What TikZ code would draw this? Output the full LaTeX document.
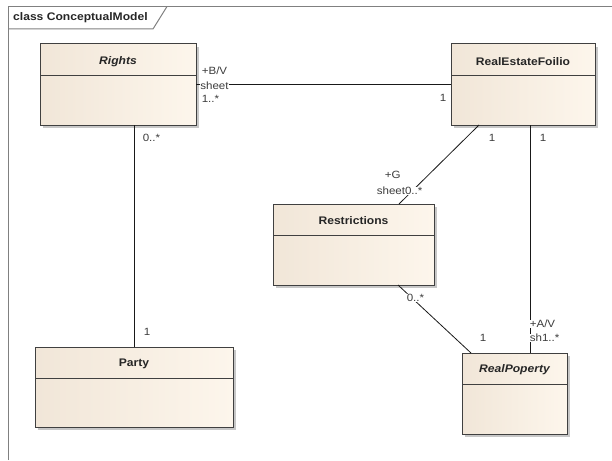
\documentclass[tikz,border=0pt]{standalone}
\usepackage{fontspec}
\setmainfont{Liberation Sans}
\newfontfamily\widesans[FakeStretch=1.1]{Liberation Sans}
\usetikzlibrary{shadows,calc}
\definecolor{boxL}{RGB}{241,230,216}
\definecolor{boxR}{RGB}{253,246,236}
\definecolor{frameC}{RGB}{128,128,128}
\definecolor{edgeC}{RGB}{64,64,64}
\definecolor{labC}{RGB}{60,60,60}
\tikzset{
  classbox/.style={draw=edgeC, line width=1pt, left color=boxL, middle color=boxR, right color=boxR,
    inner sep=0pt, outer sep=0pt, anchor=north west,
    drop shadow={shadow xshift=3pt, shadow yshift=-3pt, fill=black!22, opacity=1}},
  sepline/.style={draw=edgeC, line width=0.8pt},
  cname/.style={font=\widesans\fontsize{11}{13}\selectfont\bfseries, text=black!85, inner sep=0pt},
  aname/.style={cname, font=\widesans\fontsize{11}{13}\selectfont\bfseries\itshape},
  conn/.style={draw=black!90, line width=0.8pt},
  lab/.style={font=\widesans\fontsize{10.5}{12}\selectfont, text=labC, fill=white, inner sep=0.6pt},
  labw/.style={lab, anchor=west},
  frame/.style={draw=frameC, line width=1.4pt},
}
\begin{document}
\begin{tikzpicture}[x=1pt,y=-1pt]
\useasboundingbox (0,0) rectangle (612,460);
% frame
\draw[frame] (8.5,460) -- (8.5,6.5) -- (612,6.5);
\draw[frame, line width=1pt] (8.5,29) -- (153,29) -- (167,6.5);
\node[anchor=west, inner sep=0pt, font=\widesans\fontsize{11}{13}\selectfont\bfseries, text=black!85] (title) at (13,17.5) {class ConceptualModel};

% classes
\node[classbox, minimum width=156pt, minimum height=81pt] (rights) at (40,44) {};
\node[classbox, minimum width=144pt, minimum height=81pt] (ref) at (451,44) {};
\node[classbox, minimum width=161pt, minimum height=81pt] (restr) at (273,204) {};
\node[classbox, minimum width=105pt, minimum height=81pt] (rp) at (462,353) {};
\node[classbox, minimum width=198pt, minimum height=80pt] (party) at (35,347) {};

\foreach \n in {rights,ref,restr,rp,party}{
  \draw[sepline] ([yshift=-31.5pt]\n.north west) -- ([yshift=-31.5pt]\n.north east);
}

\node[aname] (rightsname) at (118,61.5) {Rights};
\node[cname] (refname) at (523,62) {RealEstateFoilio};
\node[cname] (restrname) at (353.5,221) {Restrictions};
\node[aname] (rpname) at (514.5,370) {RealPoperty};
\node[cname] (partyname) at (134,364) {Party};

% connectors
\draw[conn] (rights.east) -- (ref.west);
\draw[conn] (party.north) -- (party.north |- rights.south);
\draw[conn] ([xshift=28pt]ref.south west) -- ([xshift=126pt]restr.north west);
\draw[conn] ([xshift=68pt]rp.north west) -- ([xshift=68pt]rp.north west |- ref.south);
\draw[conn] ([xshift=125pt]restr.south west) -- ([xshift=9pt]rp.north west);

% labels
\node[labw] (l1) at (201,71) {+B/V};
\node[labw] (l2) at (199.5,86) {sheet};
\node[labw] (l3) at (201,99) {1..*};
\node[lab] (l4) at (443,98) {1};
\node[labw] (l5) at (142,138) {0..*};
\node[lab] (l6) at (492,138) {1};
\node[lab] (l7) at (543,138) {1};
\node[labw] (l8) at (384,175) {+G};
\node[labw] (l9) at (376,191) {sheet0..*};
\node[labw] (l10) at (406,298) {0..*};
\node[lab] (l11) at (483,338) {1};
\node[labw] (l12) at (529,324) {+A/V};
\node[labw] (l13) at (529,338) {sh1..*};
\node[lab] (l14) at (147,332) {1};
\end{tikzpicture}
\end{document}
